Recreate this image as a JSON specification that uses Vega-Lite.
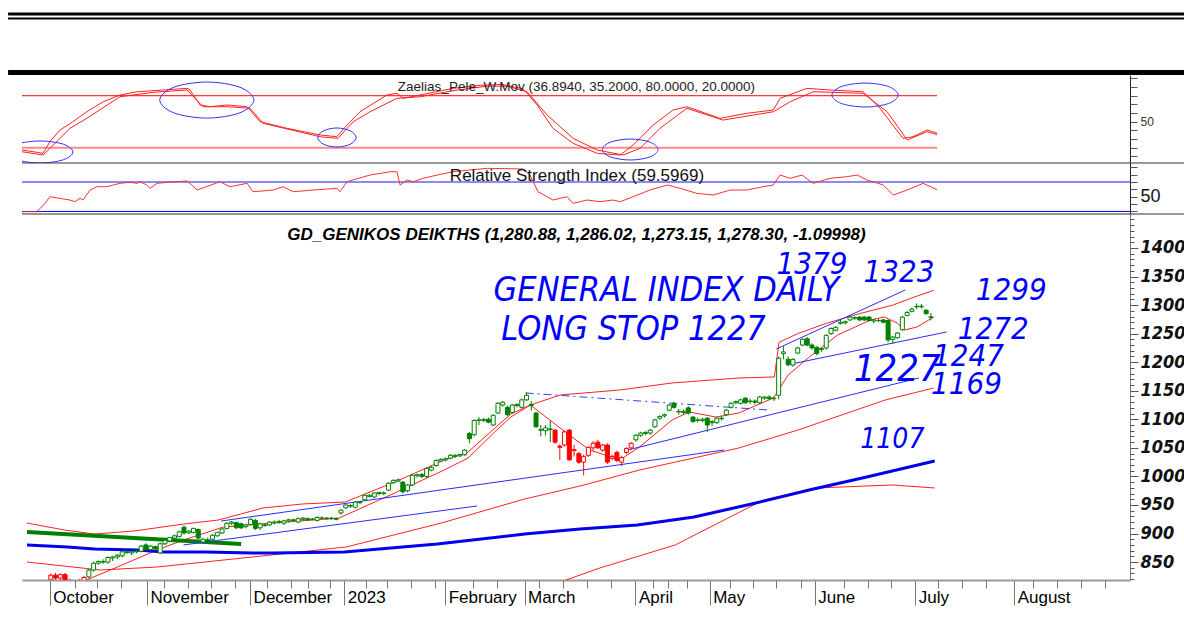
{
"$schema": "https://vega.github.io/schema/vega-lite/v6.json",
"background": "white",
"padding": {"left": 5, "top": 0, "right": 0, "bottom": 0},
"spacing": 0,
"bounds": "flush",
"config": {"view": {"stroke": null}, "font": "Liberation Sans", "axis": {"grid": false}},
"datasets": {
"osc": [
{"s":"a","t":0,"v":17.4},{"s":"a","t":4.4,"v":13.6},{"s":"a","t":5.8,"v":27},{"s":"a","t":7.9,"v":40.4},{"s":"a","t":10.6,"v":50},{"s":"a","t":13.5,"v":61.5},{"s":"a","t":16.9,"v":73},{"s":"a","t":20.4,"v":80.8},{"s":"a","t":24,"v":84.6},{"s":"a","t":27.3,"v":85.8},{"s":"a","t":34.4,"v":88.5},{"s":"a","t":35,"v":86.6},{"s":"a","t":37.1,"v":69.3},{"s":"a","t":39.2,"v":67.3},{"s":"a","t":42.7,"v":69.3},{"s":"a","t":46.9,"v":67.3},{"s":"a","t":49.6,"v":50},{"s":"a","t":55.2,"v":42.4},{"s":"a","t":62.1,"v":34.7},{"s":"a","t":65.6,"v":32.7},{"s":"a","t":67.7,"v":46.2},{"s":"a","t":70.4,"v":61.5},{"s":"a","t":76,"v":80.8},{"s":"a","t":78.1,"v":82.8},{"s":"a","t":79.4,"v":77},{"s":"a","t":82.9,"v":80.8},{"s":"a","t":89.8,"v":88.5},{"s":"a","t":95.4,"v":92},{"s":"a","t":100,"v":93},{"s":"a","t":104.4,"v":88},{"s":"a","t":107.3,"v":69.3},{"s":"a","t":110.6,"v":42.4},{"s":"a","t":114.8,"v":25.1},{"s":"a","t":119.8,"v":13.6},{"s":"a","t":124.6,"v":11.6},{"s":"a","t":127.3,"v":23.1},{"s":"a","t":131.5,"v":46.2},{"s":"a","t":135.6,"v":63.5},{"s":"a","t":138.5,"v":67.3},{"s":"a","t":145.4,"v":53.9},{"s":"a","t":151,"v":59.7},{"s":"a","t":156.5,"v":63.5},{"s":"a","t":157.9,"v":77},{"s":"a","t":163.5,"v":88.5},{"s":"a","t":168.3,"v":86.6},{"s":"a","t":175.2,"v":84.6},{"s":"a","t":178.75,"v":65.5},{"s":"a","t":183.5,"v":30.8},{"s":"a","t":185.6,"v":32.7},{"s":"a","t":188.5,"v":40.4},{"s":"a","t":190.6,"v":36.9},
{"s":"b","t":0,"v":15.4},{"s":"b","t":4.4,"v":11.6},{"s":"b","t":6.5,"v":23.1},{"s":"b","t":10,"v":42.4},{"s":"b","t":13.5,"v":53.9},{"s":"b","t":20.4,"v":78.8},{"s":"b","t":27.3,"v":83.9},{"s":"b","t":34.4,"v":86.6},{"s":"b","t":37.7,"v":67.3},{"s":"b","t":42.7,"v":67.3},{"s":"b","t":47.5,"v":65.5},{"s":"b","t":50.2,"v":48.2},{"s":"b","t":62.1,"v":32.7},{"s":"b","t":65.8,"v":30.8},{"s":"b","t":69,"v":50},{"s":"b","t":72.5,"v":61.5},{"s":"b","t":78.1,"v":77},{"s":"b","t":82.9,"v":78.8},{"s":"b","t":90,"v":86},{"s":"b","t":96.9,"v":91},{"s":"b","t":101,"v":91},{"s":"b","t":105.2,"v":84.6},{"s":"b","t":109.4,"v":57.7},{"s":"b","t":114.8,"v":30.8},{"s":"b","t":119.8,"v":17.4},{"s":"b","t":125.2,"v":11.6},{"s":"b","t":128.75,"v":19.3},{"s":"b","t":132.9,"v":42.4},{"s":"b","t":138.5,"v":65.5},{"s":"b","t":146,"v":51.9},{"s":"b","t":156.5,"v":61.5},{"s":"b","t":160,"v":73},{"s":"b","t":164.8,"v":84.6},{"s":"b","t":175.2,"v":82.8},{"s":"b","t":180.2,"v":61.5},{"s":"b","t":184.4,"v":28.9},{"s":"b","t":188.5,"v":38.5},{"s":"b","t":190.6,"v":35.2}
],
"ell": [
{"e":1,"k":0,"t":-3.1,"v":15.1},{"e":1,"k":1,"t":-1.1,"v":24.1},{"e":1,"k":2,"t":3.75,"v":27.8},{"e":1,"k":3,"t":8.6,"v":24.1},{"e":1,"k":4,"t":10.6,"v":15.1},{"e":1,"k":5,"t":8.6,"v":6.1},{"e":1,"k":6,"t":3.75,"v":2.4},{"e":1,"k":7,"t":-1.1,"v":6.1},
{"e":2,"k":0,"t":28.7,"v":75},{"e":2,"k":1,"t":31.6,"v":89.7},{"e":2,"k":2,"t":38.5,"v":95.8},{"e":2,"k":3,"t":45.4,"v":89.7},{"e":2,"k":4,"t":48.3,"v":75},{"e":2,"k":5,"t":45.4,"v":60.3},{"e":2,"k":6,"t":38.5,"v":54.2},{"e":2,"k":7,"t":31.6,"v":60.3},
{"e":3,"k":0,"t":61.6,"v":31.8},{"e":3,"k":1,"t":62.8,"v":39.5},{"e":3,"k":2,"t":65.6,"v":42.8},{"e":3,"k":3,"t":68.4,"v":39.5},{"e":3,"k":4,"t":69.6,"v":31.8},{"e":3,"k":5,"t":68.4,"v":24.1},{"e":3,"k":6,"t":65.6,"v":20.8},{"e":3,"k":7,"t":62.8,"v":24.1},
{"e":4,"k":0,"t":120.9,"v":17.95},{"e":4,"k":1,"t":122.6,"v":26.5},{"e":4,"k":2,"t":126.7,"v":30.05},{"e":4,"k":3,"t":130.8,"v":26.5},{"e":4,"k":4,"t":132.5,"v":17.95},{"e":4,"k":5,"t":130.8,"v":9.4},{"e":4,"k":6,"t":126.7,"v":5.85},{"e":4,"k":7,"t":122.6,"v":9.4},
{"e":5,"k":0,"t":168.7,"v":80.8},{"e":5,"k":1,"t":170.7,"v":90.6},{"e":5,"k":2,"t":175.6,"v":94.6},{"e":5,"k":3,"t":180.5,"v":90.6},{"e":5,"k":4,"t":182.5,"v":80.8},{"e":5,"k":5,"t":180.5,"v":71},{"e":5,"k":6,"t":175.6,"v":67},{"e":5,"k":7,"t":170.7,"v":71}
],
"rsi": [
{"t":0,"v":29.6},{"t":3.1,"v":29.6},{"t":4.8,"v":41},{"t":5.8,"v":50},{"t":10,"v":45.5},{"t":11,"v":43.2},{"t":12.1,"v":47.8},{"t":12.7,"v":45.5},{"t":14.2,"v":59.1},{"t":15.6,"v":63.6},{"t":17.7,"v":63.6},{"t":19,"v":65.9},{"t":20.4,"v":68.2},{"t":22.5,"v":69.6},{"t":24,"v":68.2},{"t":24.6,"v":70.4},{"t":26,"v":65.9},{"t":26.7,"v":61.4},{"t":28.1,"v":68.2},{"t":30.2,"v":69.6},{"t":34.4,"v":71.4},{"t":36.5,"v":59.1},{"t":41.25,"v":70.4},{"t":43.3,"v":63.6},{"t":46.9,"v":68.2},{"t":48.1,"v":56.8},{"t":52.3,"v":59.1},{"t":54.4,"v":63.6},{"t":56.5,"v":56.8},{"t":60.6,"v":59.1},{"t":65.6,"v":61.4},{"t":66.25,"v":56.8},{"t":67.7,"v":70.4},{"t":72.5,"v":79.5},{"t":76.7,"v":84},{"t":78.1,"v":84},{"t":78.75,"v":65.9},{"t":80.2,"v":72.7},{"t":81.5,"v":70.4},{"t":83.5,"v":75},{"t":86.5,"v":79.5},{"t":89.8,"v":84},{"t":93.3,"v":86.4},{"t":96.9,"v":88.6},{"t":104.4,"v":87.7},{"t":105.8,"v":79.5},{"t":107.5,"v":56.8},{"t":110.6,"v":45.5},{"t":113.5,"v":50},{"t":114.8,"v":41},{"t":117.7,"v":45.5},{"t":120.4,"v":43.2},{"t":123.1,"v":45.5},{"t":124.6,"v":43.2},{"t":127.3,"v":50},{"t":130.8,"v":59.1},{"t":134.4,"v":65.9},{"t":137.1,"v":61.4},{"t":140.6,"v":54.5},{"t":144,"v":52.3},{"t":147.5,"v":59.1},{"t":151,"v":59.1},{"t":154.4,"v":63.6},{"t":156.5,"v":65.9},{"t":157.9,"v":79.5},{"t":160,"v":75},{"t":162.5,"v":79.5},{"t":164.8,"v":68.2},{"t":168.3,"v":75},{"t":171.9,"v":77.3},{"t":174,"v":79.5},{"t":176,"v":72.7},{"t":177.3,"v":70.4},{"t":179.4,"v":65.9},{"t":181.5,"v":52.3},{"t":184.4,"v":59.1},{"t":187.7,"v":68.2},{"t":190.6,"v":59.6}
],
"ma": [
{"id":"A","t":0,"v":918.4},{"id":"A","t":7.9,"v":906.1},{"id":"A","t":14.2,"v":899.1},{"id":"A","t":22.5,"v":904.4},{"id":"A","t":32.9,"v":916.6},{"id":"A","t":40.2,"v":923.6},{"id":"A","t":49.6,"v":944.7},{"id":"A","t":57.9,"v":951.7},{"id":"A","t":66.9,"v":955.2},{"id":"A","t":77.3,"v":990.2},{"id":"A","t":87.7,"v":1028.7},{"id":"A","t":92.7,"v":1042.7},{"id":"A","t":101.7,"v":1109.3},{"id":"A","t":105.8,"v":1125},{"id":"A","t":112.1,"v":1142.6},{"id":"A","t":124.6,"v":1151.3},{"id":"A","t":135.6,"v":1163.6},{"id":"A","t":149.6,"v":1172.3},{"id":"A","t":157.1,"v":1174.1},{"id":"A","t":158.1,"v":1235},{"id":"A","t":162,"v":1250},{"id":"A","t":168,"v":1268},{"id":"A","t":175,"v":1285},{"id":"A","t":182,"v":1300},{"id":"A","t":186.5,"v":1314},{"id":"A","t":190.6,"v":1326},
{"id":"B","t":12.5,"v":818.6},{"id":"B","t":19,"v":841.3},{"id":"B","t":27.3,"v":871.1},{"id":"B","t":32.9,"v":888.6},{"id":"B","t":41.3,"v":911.4},{"id":"B","t":51.7,"v":918.4},{"id":"B","t":65.6,"v":927.1},{"id":"B","t":77.3,"v":970.9},{"id":"B","t":87.7,"v":1011.2},{"id":"B","t":92.7,"v":1032.2},{"id":"B","t":98.1,"v":1076},{"id":"B","t":101.7,"v":1104},{"id":"B","t":105.8,"v":1125},{"id":"B","t":114.8,"v":1067.3},{"id":"B","t":118.3,"v":1046.2},{"id":"B","t":124.6,"v":1028.7},{"id":"B","t":128.75,"v":1051.5},{"id":"B","t":135.6,"v":1098.8},{"id":"B","t":139.2,"v":1112.8},{"id":"B","t":144.8,"v":1104},{"id":"B","t":149.6,"v":1111},{"id":"B","t":156.9,"v":1137.3},{"id":"B","t":160,"v":1177.6},{"id":"B","t":164.2,"v":1207.4},{"id":"B","t":170.4,"v":1247.6},{"id":"B","t":177.3,"v":1273.9},{"id":"B","t":180.2,"v":1279.2},{"id":"B","t":182.9,"v":1268.7},{"id":"B","t":184.4,"v":1256.4},{"id":"B","t":187.1,"v":1261.6},{"id":"B","t":190.6,"v":1279.2},
{"id":"C","t":0,"v":850.1},{"id":"C","t":15.4,"v":836.1},{"id":"C","t":27.3,"v":841.3},{"id":"C","t":47.3,"v":858.8},{"id":"C","t":67.1,"v":876.4},{"id":"C","t":87.1,"v":918.4},{"id":"C","t":104.6,"v":960.4},{"id":"C","t":116.25,"v":983.2},{"id":"C","t":128.75,"v":1011.2},{"id":"C","t":149.6,"v":1049.7},{"id":"C","t":162.1,"v":1081.3},{"id":"C","t":180.4,"v":1133.8},{"id":"C","t":190.6,"v":1154.8},
{"id":"D","t":100,"v":790},{"id":"D","t":113.3,"v":818.6},{"id":"D","t":120.4,"v":839.6},{"id":"D","t":136.25,"v":879.9},{"id":"D","t":154.8,"v":958.7},{"id":"D","t":165.8,"v":979.7},{"id":"D","t":181.9,"v":985},{"id":"D","t":190.8,"v":979.7}
],
"mab": [
{"t":0,"v":880},{"t":8.5,"v":876.4},{"t":14.2,"v":872.9},{"t":23.1,"v":871.1},{"t":28.75,"v":867.6},{"t":37.5,"v":867.6},{"t":47.5,"v":865.9},{"t":51.7,"v":865.9},{"t":66.7,"v":867.6},{"t":86.25,"v":881.6},{"t":104.6,"v":899.1},{"t":116.25,"v":907.9},{"t":128.3,"v":914.9},{"t":140.2,"v":928.9},{"t":152.3,"v":951.7},{"t":164.4,"v":976.2},{"t":176.5,"v":998.9},{"t":190.8,"v":1026.9}
],
"grn": [{"t":0,"v":902.6},{"t":45,"v":881.6}],
"tl": [
{"id":1,"t":32.9,"v":880},{"id":1,"t":94.6,"v":948.2},
{"id":2,"t":40.8,"v":921.9},{"id":2,"t":146.5,"v":1046.2},
{"id":3,"t":126.25,"v":1046.2},{"id":3,"t":187.5,"v":1172.3},
{"id":4,"t":159.6,"v":1195},{"id":4,"t":193.3,"v":1252.9},
{"id":5,"t":157.5,"v":1223.1},{"id":5,"t":184.6,"v":1326.4}
],
"dl": [{"t":104.8,"v":1146.1},{"t":155.8,"v":1116.3}],
"candles": [
{"t":1,"o":810,"h":814,"l":800,"c":805,"k":"r"},{"t":2,"o":806,"h":812,"l":798,"c":810,"k":"r"},{"t":3,"o":810,"h":815,"l":803,"c":806,"k":"r"},{"t":4,"o":806,"h":816,"l":802,"c":814,"k":"r"},{"t":5,"o":819,"h":830,"l":815,"c":827,"k":"r"},{"t":6,"o":827,"h":831,"l":819,"c":822,"k":"r"},{"t":7,"o":822,"h":830,"l":818,"c":828,"k":"r"},{"t":8,"o":828,"h":831,"l":815,"c":817,"k":"r"},{"t":9,"o":816,"h":821,"l":808,"c":812,"k":"r"},{"t":10,"o":812,"h":818,"l":805,"c":815,"k":"r"},{"t":11,"o":815,"h":820,"l":808,"c":811,"k":"r"},{"t":12,"o":812,"h":826,"l":809,"c":823,"k":"r"},
{"t":13,"o":824,"h":838,"l":821,"c":836,"k":"g"},{"t":14,"o":836,"h":851,"l":833,"c":848,"k":"g"},{"t":15,"o":848,"h":853,"l":845,"c":851,"k":"g"},{"t":16,"o":851,"h":855,"l":847,"c":850,"k":"g"},{"t":17,"o":850,"h":860,"l":847,"c":858,"k":"g"},{"t":18,"o":857,"h":861,"l":852,"c":859,"k":"g"},{"t":19,"o":859,"h":864,"l":855,"c":862,"k":"g"},{"t":20,"o":861,"h":870,"l":858,"c":868,"k":"g"},{"t":21,"o":868,"h":871,"l":864,"c":867,"k":"g"},{"t":22,"o":866,"h":870,"l":862,"c":868,"k":"g"},{"t":23,"o":868,"h":872,"l":865,"c":869,"k":"g"},{"t":24,"o":869,"h":880,"l":867,"c":878,"k":"g"},{"t":25,"o":880,"h":883,"l":870,"c":872,"k":"g"},{"t":26,"o":872,"h":880,"l":869,"c":878,"k":"g"},{"t":27,"o":877,"h":879,"l":870,"c":873,"k":"g"},{"t":28,"o":866,"h":884,"l":864,"c":882,"k":"g"},{"t":29,"o":882,"h":889,"l":880,"c":888,"k":"g"},{"t":30,"o":887,"h":894,"l":885,"c":893,"k":"g"},{"t":31,"o":892,"h":898,"l":890,"c":896,"k":"g"},{"t":32,"o":895,"h":905,"l":893,"c":903,"k":"g"},{"t":33,"o":911,"h":914,"l":898,"c":901,"k":"g"},{"t":34,"o":901,"h":906,"l":899,"c":904,"k":"g"},{"t":35,"o":902,"h":910,"l":900,"c":909,"k":"g"},{"t":36,"o":907,"h":909,"l":889,"c":892,"k":"g"},{"t":37,"o":885,"h":892,"l":882,"c":890,"k":"g"},{"t":38,"o":889,"h":893,"l":885,"c":888,"k":"g"},{"t":39,"o":890,"h":899,"l":888,"c":897,"k":"g"},{"t":40,"o":896,"h":903,"l":894,"c":902,"k":"g"},{"t":41,"o":901,"h":909,"l":899,"c":908,"k":"g"},{"t":42,"o":909,"h":920,"l":907,"c":918,"k":"g"},{"t":43,"o":918,"h":922,"l":915,"c":920,"k":"g"},{"t":44,"o":919,"h":921,"l":908,"c":910,"k":"g"},{"t":45,"o":917,"h":919,"l":908,"c":910,"k":"g"},{"t":46,"o":912,"h":917,"l":909,"c":915,"k":"g"},{"t":47,"o":916,"h":927,"l":914,"c":925,"k":"g"},{"t":48,"o":923,"h":926,"l":906,"c":909,"k":"g"},{"t":49,"o":910,"h":919,"l":906,"c":917,"k":"g"},{"t":50,"o":915,"h":918,"l":912,"c":914,"k":"g"},{"t":51,"o":915,"h":922,"l":913,"c":920,"k":"g"},{"t":52,"o":919,"h":923,"l":916,"c":920,"k":"g"},{"t":53,"o":920,"h":924,"l":917,"c":921,"k":"g"},{"t":54,"o":918,"h":924,"l":915,"c":922,"k":"g"},{"t":55,"o":922,"h":926,"l":919,"c":924,"k":"g"},{"t":56,"o":923,"h":926,"l":920,"c":924,"k":"g"},{"t":57,"o":920,"h":928,"l":918,"c":926,"k":"g"},{"t":58,"o":925,"h":929,"l":922,"c":927,"k":"g"},{"t":59,"o":926,"h":928,"l":922,"c":924,"k":"g"},{"t":60,"o":925,"h":927,"l":923,"c":925,"k":"g"},{"t":61,"o":923,"h":930,"l":921,"c":928,"k":"g"},{"t":62,"o":927,"h":930,"l":925,"c":927,"k":"g"},{"t":63,"o":927,"h":929,"l":924,"c":926,"k":"g"},{"t":64,"o":926,"h":929,"l":924,"c":927,"k":"g"},{"t":65,"o":926,"h":928,"l":923,"c":925,"k":"g"},{"t":66,"o":936,"h":942,"l":933,"c":941,"k":"g"},{"t":67,"o":945,"h":951,"l":943,"c":950,"k":"g"},{"t":68,"o":948,"h":951,"l":945,"c":949,"k":"g"},{"t":69,"o":946,"h":957,"l":944,"c":955,"k":"g"},{"t":70,"o":954,"h":957,"l":951,"c":956,"k":"g"},{"t":71,"o":959,"h":968,"l":957,"c":967,"k":"g"},{"t":72,"o":965,"h":969,"l":963,"c":967,"k":"g"},{"t":73,"o":964,"h":972,"l":962,"c":971,"k":"g"},{"t":74,"o":970,"h":973,"l":967,"c":972,"k":"g"},{"t":75,"o":971,"h":974,"l":967,"c":970,"k":"g"},{"t":76,"o":976,"h":990,"l":974,"c":988,"k":"g"},{"t":77,"o":989,"h":995,"l":987,"c":993,"k":"g"},{"t":78,"o":992,"h":996,"l":990,"c":994,"k":"g"},{"t":79,"o":990,"h":992,"l":970,"c":973,"k":"g"},{"t":80,"o":975,"h":987,"l":972,"c":985,"k":"g"},{"t":81,"o":985,"h":1004,"l":983,"c":1002,"k":"g"},{"t":82,"o":1001,"h":1005,"l":998,"c":1003,"k":"g"},{"t":83,"o":1003,"h":1006,"l":997,"c":1000,"k":"g"},{"t":84,"o":1000,"h":1016,"l":997,"c":1014,"k":"g"},{"t":85,"o":1011,"h":1018,"l":1009,"c":1016,"k":"g"},{"t":86,"o":1019,"h":1030,"l":1017,"c":1028,"k":"g"},{"t":87,"o":1027,"h":1032,"l":1025,"c":1030,"k":"g"},{"t":88,"o":1029,"h":1033,"l":1026,"c":1031,"k":"g"},{"t":89,"o":1032,"h":1039,"l":1030,"c":1037,"k":"g"},{"t":90,"o":1035,"h":1039,"l":1032,"c":1037,"k":"g"},{"t":91,"o":1036,"h":1040,"l":1034,"c":1038,"k":"g"},{"t":92,"o":1038,"h":1048,"l":1036,"c":1046,"k":"g"},{"t":93,"o":1075,"h":1078,"l":1058,"c":1066,"k":"g"},{"t":94,"o":1073,"h":1100,"l":1070,"c":1098,"k":"g"},{"t":95,"o":1098,"h":1104,"l":1090,"c":1099,"k":"g"},{"t":96,"o":1098,"h":1102,"l":1095,"c":1100,"k":"g"},{"t":97,"o":1100,"h":1103,"l":1093,"c":1095,"k":"g"},{"t":98,"o":1090,"h":1109,"l":1088,"c":1107,"k":"g"},{"t":99,"o":1111,"h":1130,"l":1109,"c":1128,"k":"g"},{"t":100,"o":1125,"h":1132,"l":1122,"c":1130,"k":"g"},{"t":101,"o":1121,"h":1124,"l":1105,"c":1108,"k":"g"},{"t":102,"o":1112,"h":1127,"l":1110,"c":1125,"k":"g"},{"t":103,"o":1124,"h":1128,"l":1121,"c":1126,"k":"g"},{"t":104,"o":1121,"h":1136,"l":1119,"c":1134,"k":"g"},{"t":105,"o":1134,"h":1147,"l":1132,"c":1142,"k":"g"},{"t":106,"o":1126,"h":1132,"l":1115,"c":1124,"k":"g"},{"t":107,"o":1111,"h":1113,"l":1085,"c":1087,"k":"g"},{"t":108,"o":1082,"h":1090,"l":1070,"c":1081,"k":"g"},{"t":109,"o":1080,"h":1090,"l":1072,"c":1085,"k":"g"},{"t":110,"o":1083,"h":1098,"l":1060,"c":1082,"k":"g"},
{"t":111,"o":1081,"h":1083,"l":1057,"c":1060,"k":"r"},{"t":112,"o":1053,"h":1056,"l":1029,"c":1051,"k":"r"},{"t":113,"o":1055,"h":1080,"l":1052,"c":1078,"k":"r"},{"t":114,"o":1081,"h":1083,"l":1027,"c":1029,"k":"r"},{"t":115,"o":1045,"h":1055,"l":1035,"c":1047,"k":"r"},{"t":116,"o":1040,"h":1043,"l":1022,"c":1025,"k":"r"},{"t":117,"o":1025,"h":1038,"l":1002,"c":1035,"k":"r"},{"t":118,"o":1037,"h":1053,"l":1034,"c":1051,"k":"r"},{"t":119,"o":1050,"h":1062,"l":1045,"c":1058,"k":"r"},{"t":120,"o":1060,"h":1064,"l":1048,"c":1050,"k":"r"},{"t":121,"o":1046,"h":1057,"l":1043,"c":1055,"k":"r"},{"t":122,"o":1055,"h":1058,"l":1022,"c":1025,"k":"r"},{"t":123,"o":1032,"h":1038,"l":1028,"c":1035,"k":"r"},{"t":124,"o":1042,"h":1045,"l":1025,"c":1028,"k":"r"},{"t":125,"o":1025,"h":1036,"l":1018,"c":1033,"k":"r"},{"t":126,"o":1042,"h":1051,"l":1039,"c":1049,"k":"r"},{"t":127,"o":1050,"h":1060,"l":1047,"c":1058,"k":"r"},
{"t":128,"o":1064,"h":1074,"l":1061,"c":1072,"k":"g"},{"t":129,"o":1072,"h":1078,"l":1069,"c":1076,"k":"g"},{"t":130,"o":1075,"h":1079,"l":1072,"c":1077,"k":"g"},{"t":131,"o":1076,"h":1083,"l":1073,"c":1081,"k":"g"},{"t":132,"o":1087,"h":1101,"l":1085,"c":1099,"k":"g"},{"t":133,"o":1102,"h":1107,"l":1099,"c":1105,"k":"g"},{"t":134,"o":1106,"h":1110,"l":1103,"c":1108,"k":"g"},{"t":135,"o":1116,"h":1127,"l":1114,"c":1125,"k":"g"},{"t":136,"o":1128,"h":1131,"l":1119,"c":1121,"k":"g"},{"t":137,"o":1114,"h":1118,"l":1108,"c":1113,"k":"g"},{"t":138,"o":1112,"h":1117,"l":1108,"c":1114,"k":"g"},{"t":139,"o":1120,"h":1123,"l":1108,"c":1111,"k":"g"},{"t":140,"o":1104,"h":1106,"l":1094,"c":1096,"k":"g"},{"t":141,"o":1098,"h":1103,"l":1094,"c":1099,"k":"g"},{"t":142,"o":1098,"h":1102,"l":1095,"c":1100,"k":"g"},{"t":143,"o":1102,"h":1104,"l":1078,"c":1090,"k":"g"},{"t":144,"o":1094,"h":1099,"l":1088,"c":1096,"k":"g"},{"t":145,"o":1094,"h":1104,"l":1092,"c":1102,"k":"g"},{"t":146,"o":1101,"h":1106,"l":1098,"c":1102,"k":"g"},{"t":147,"o":1108,"h":1118,"l":1106,"c":1116,"k":"g"},{"t":148,"o":1121,"h":1130,"l":1119,"c":1128,"k":"g"},{"t":149,"o":1129,"h":1133,"l":1126,"c":1131,"k":"g"},{"t":150,"o":1128,"h":1136,"l":1126,"c":1134,"k":"g"},{"t":151,"o":1137,"h":1139,"l":1127,"c":1129,"k":"g"},{"t":152,"o":1131,"h":1136,"l":1127,"c":1132,"k":"g"},{"t":153,"o":1132,"h":1135,"l":1126,"c":1130,"k":"g"},{"t":154,"o":1129,"h":1141,"l":1127,"c":1139,"k":"g"},{"t":155,"o":1137,"h":1141,"l":1134,"c":1139,"k":"g"},{"t":156,"o":1139,"h":1142,"l":1134,"c":1136,"k":"g"},{"t":157,"o":1136,"h":1140,"l":1132,"c":1137,"k":"g"},{"t":158,"o":1142,"h":1210,"l":1135,"c":1207,"k":"g"},{"t":159,"o":1215,"h":1228,"l":1205,"c":1218,"k":"g"},{"t":160,"o":1205,"h":1210,"l":1193,"c":1196,"k":"g"},{"t":161,"o":1195,"h":1207,"l":1192,"c":1205,"k":"g"},{"t":162,"o":1216,"h":1227,"l":1214,"c":1225,"k":"g"},{"t":163,"o":1230,"h":1242,"l":1228,"c":1240,"k":"g"},{"t":164,"o":1241,"h":1244,"l":1228,"c":1230,"k":"g"},{"t":165,"o":1230,"h":1233,"l":1222,"c":1225,"k":"g"},{"t":166,"o":1226,"h":1228,"l":1212,"c":1215,"k":"g"},{"t":167,"o":1222,"h":1226,"l":1218,"c":1224,"k":"g"},{"t":168,"o":1225,"h":1249,"l":1222,"c":1247,"k":"g"},{"t":169,"o":1250,"h":1261,"l":1248,"c":1259,"k":"g"},{"t":170,"o":1256,"h":1263,"l":1254,"c":1261,"k":"g"},{"t":171,"o":1268,"h":1275,"l":1266,"c":1270,"k":"g"},{"t":172,"o":1269,"h":1273,"l":1266,"c":1271,"k":"g"},{"t":173,"o":1274,"h":1281,"l":1272,"c":1279,"k":"g"},{"t":174,"o":1277,"h":1280,"l":1274,"c":1278,"k":"g"},{"t":175,"o":1279,"h":1281,"l":1272,"c":1274,"k":"g"},{"t":176,"o":1279,"h":1281,"l":1272,"c":1274,"k":"g"},{"t":177,"o":1279,"h":1281,"l":1271,"c":1273,"k":"g"},{"t":178,"o":1272,"h":1276,"l":1268,"c":1274,"k":"g"},{"t":179,"o":1273,"h":1276,"l":1270,"c":1273,"k":"g"},{"t":180,"o":1274,"h":1276,"l":1268,"c":1270,"k":"g"},{"t":181,"o":1273,"h":1275,"l":1235,"c":1239,"k":"g"},{"t":182,"o":1240,"h":1246,"l":1232,"c":1244,"k":"g"},{"t":183,"o":1243,"h":1253,"l":1241,"c":1251,"k":"g"},{"t":184,"o":1257,"h":1281,"l":1255,"c":1279,"k":"g"},{"t":185,"o":1282,"h":1290,"l":1280,"c":1287,"k":"g"},{"t":186,"o":1289,"h":1296,"l":1287,"c":1293,"k":"g"},{"t":187,"o":1297,"h":1303,"l":1293,"c":1298,"k":"g"},{"t":188,"o":1298,"h":1302,"l":1294,"c":1297,"k":"g"},{"t":189,"o":1291,"h":1293,"l":1283,"c":1285,"k":"g"},{"t":190,"o":1279.4,"h":1286.02,"l":1273.15,"c":1278.3,"k":"g"}
]
},
"vconcat": [
{
"width": 1108, "height": 75,
"data": {"values": [{}]},
"resolve": {"axis": {"x": "independent", "y": "independent"}},
"layer": [
{"mark": {"type": "rule", "color": "black", "strokeWidth": 3, "clip": false},
 "encoding": {"x": {"datum": -2.9, "type": "quantitative", "scale": {"domain": [0, 230.8], "nice": false, "zero": false}, "axis": null}, "x2": {"datum": 242.1}, "y": {"datum": 61, "type": "quantitative", "scale": {"domain": [0, 75], "nice": false, "zero": false}, "axis": null}}},
{"mark": {"type": "rule", "color": "black", "strokeWidth": 2, "clip": false},
 "encoding": {"x": {"datum": -2.9, "type": "quantitative", "axis": null}, "x2": {"datum": 242.1}, "y": {"datum": 56.5, "type": "quantitative", "axis": null}}},
{"mark": {"type": "rule", "color": "black", "strokeWidth": 5, "clip": false},
 "encoding": {"x": {"datum": -2.9, "type": "quantitative", "axis": null}, "x2": {"datum": 242.1}, "y": {"datum": 2.5, "type": "quantitative", "axis": null}}}
]
},
{
"width": 1108, "height": 88,
"resolve": {"axis": {"x": "independent", "y": "independent"}},
"layer": [
{"data": {"values": [{}]},
 "mark": {"type": "rule", "color": "#ff0000", "strokeWidth": 1},
 "encoding": {"x": {"datum": 0, "type": "quantitative", "scale": {"domain": [0, 230.8], "nice": false, "zero": false}, "axis": null}, "x2": {"datum": 190.6}, "y": {"datum": 80, "type": "quantitative", "scale": {"domain": [2.4, 103.9], "nice": false, "zero": false},
  "axis": {"orient": "right", "title": null, "values": [50], "tickSize": 7, "tickColor": "#555", "domainColor": "#222", "labelFontSize": 12, "labelColor": "#333", "labelPadding": 3}}}},
{"data": {"values": [{}]},
 "mark": {"type": "rule", "color": "#ff8a8a", "strokeWidth": 2},
 "encoding": {"x": {"datum": 0, "type": "quantitative", "axis": null}, "x2": {"datum": 190.6}, "y": {"datum": 20, "type": "quantitative",
  "axis": {"orient": "right", "title": null, "values": [10,20,30,40,60,70,80,90,100], "labels": false, "domain": false, "tickSize": 7, "tickColor": "#555"}}}},
{"data": {"name": "osc"},
 "mark": {"type": "line", "color": "#ff2020", "strokeWidth": 1},
 "encoding": {"x": {"field": "t", "type": "quantitative", "axis": null}, "y": {"field": "v", "type": "quantitative", "axis": null}, "detail": {"field": "s"}}},
{"data": {"name": "ell"},
 "mark": {"type": "line", "color": "#3030ff", "strokeWidth": 1, "interpolate": "cardinal-closed", "clip": true},
 "encoding": {"x": {"field": "t", "type": "quantitative", "axis": null}, "y": {"field": "v", "type": "quantitative", "axis": null}, "detail": {"field": "e"}, "order": {"field": "k"}}},
{"data": {"values": [{}]},
 "mark": {"type": "text", "text": "Zaelias_Pele_W.Mov (36.8940, 35.2000, 80.0000, 20.0000)", "fontSize": 13.5, "color": "#222", "align": "center", "baseline": "middle"},
 "encoding": {"x": {"datum": 115.5, "type": "quantitative", "axis": null}, "y": {"datum": 90, "type": "quantitative", "axis": null}}}
]
},
{
"width": 1108, "height": 51,
"resolve": {"axis": {"x": "independent", "y": "independent"}},
"layer": [
{"data": {"values": [{}]},
 "mark": {"type": "rule", "color": "#8a8aff", "strokeWidth": 2},
 "encoding": {"x": {"datum": 0, "type": "quantitative", "scale": {"domain": [0, 230.8], "nice": false, "zero": false}, "axis": null}, "x2": {"datum": 230.8}, "y": {"datum": 70, "type": "quantitative", "scale": {"domain": [26.5, 95.85], "nice": false, "zero": false},
  "axis": {"orient": "right", "title": null, "values": [50], "tickSize": 7, "tickColor": "#555", "domainColor": "#222", "labelFontSize": 18, "labelColor": "#111", "labelPadding": 3}}}},
{"data": {"values": [{}]},
 "mark": {"type": "rule", "color": "#0000ff", "strokeWidth": 1},
 "encoding": {"x": {"datum": 0, "type": "quantitative", "axis": null}, "x2": {"datum": 230.8}, "y": {"datum": 30, "type": "quantitative",
  "axis": {"orient": "right", "title": null, "values": [30,40,60,70,80,90], "labels": false, "domain": false, "tickSize": 7, "tickColor": "#555"}}}},
{"data": {"values": [{}]},
 "mark": {"type": "rule", "color": "#333", "strokeWidth": 1, "clip": false},
 "encoding": {"x": {"datum": 0, "type": "quantitative", "axis": null}, "x2": {"datum": 242.1}, "y": {"datum": 95.85, "type": "quantitative", "axis": null}}},
{"data": {"values": [{}]},
 "mark": {"type": "rule", "color": "#333", "strokeWidth": 1, "clip": false},
 "encoding": {"x": {"datum": 0, "type": "quantitative", "axis": null}, "x2": {"datum": 242.1}, "y": {"datum": 26.5, "type": "quantitative", "axis": null}}},
{"data": {"name": "rsi"},
 "mark": {"type": "line", "color": "#ff3030", "strokeWidth": 1},
 "encoding": {"x": {"field": "t", "type": "quantitative", "axis": null}, "y": {"field": "v", "type": "quantitative", "axis": null}}},
{"data": {"values": [{}]},
 "mark": {"type": "text", "text": "Relative Strength Index (59.5969)", "fontSize": 17, "color": "#111", "align": "center", "baseline": "middle"},
 "encoding": {"x": {"datum": 115.6, "type": "quantitative", "axis": null}, "y": {"datum": 78.2, "type": "quantitative", "axis": null}}}
]
},
{
"width": 1108, "height": 366,
"resolve": {"axis": {"x": "independent", "y": "independent"}},
"layer": [
{"data": {"name": "ma"},
 "mark": {"type": "line", "color": "#ff2020", "strokeWidth": 1, "clip": true},
 "encoding": {
  "x": {"field": "t", "type": "quantitative", "title": null, "scale": {"domain": [0, 230.8], "nice": false, "zero": false},
   "axis": {"orient": "bottom", "values": [4.8,25.2,46.9,66.7,87.9,104.6,127.9,143.5,165.6,186.7,207.5],
    "labelExpr": "datum.value==4.8?'October':datum.value==25.2?'November':datum.value==46.9?'December':datum.value==66.7?'2023':datum.value==87.9?'February':datum.value==104.6?'March':datum.value==127.9?'April':datum.value==143.5?'May':datum.value==165.6?'June':datum.value==186.7?'July':'August'",
    "tickSize": 25, "tickColor": "#777", "domainColor": "#999", "domainWidth": 2, "labelAlign": "left", "labelBaseline": "top", "labelOffset": 3, "labelPadding": -16, "labelFontSize": 17, "labelColor": "#000", "labelFlush": false, "labelBound": false}},
  "y": {"field": "v", "type": "quantitative", "title": null, "scale": {"domain": [818.6, 1459.5], "nice": false, "zero": false},
   "axis": {"orient": "right", "values": [850,900,950,1000,1050,1100,1150,1200,1250,1300,1350,1400],
    "format": "d", "tickSize": 8, "tickColor": "#555", "domainColor": "#777", "labelFont": "DejaVu Sans Condensed, DejaVu Sans, sans-serif", "labelFontWeight": "bold", "labelFontStyle": "italic", "labelFontSize": 18, "labelColor": "#111", "labelPadding": 2}},
  "detail": {"field": "id"}}},
{"data": {"name": "mab"},
 "mark": {"type": "line", "color": "#0000ee", "strokeWidth": 3, "clip": true},
 "encoding": {
  "x": {"field": "t", "type": "quantitative", "title": null,
   "axis": {"orient": "bottom", "values": [10,14.8,19.8,28.75,33.75,38.75,43.75,50.4,55.4,59,63.75,71.25,75.6,80.8,85.8,93.75,98.75,107.6,112.7,117.7,122.7,131.5,134.8,138.75,147.7,152.6,157.5,162.7,171.7,176.7,181.7,191.5,196.5,201.5,211.5,216.5,221.5,226.7], "labels": false, "domain": false, "tickSize": 8, "tickColor": "#777"}},
  "y": {"field": "v", "type": "quantitative", "title": null,
   "axis": {"orient": "right", "values": [820,830,840,860,870,880,890,910,920,930,940,960,970,980,990,1010,1020,1030,1040,1060,1070,1080,1090,1110,1120,1130,1140,1160,1170,1180,1190,1210,1220,1230,1240,1260,1270,1280,1290,1310,1320,1330,1340,1360,1370,1380,1390,1410,1420,1430,1440,1450], "labels": false, "domain": false, "tickSize": 4, "tickColor": "#555"}}}},
{"data": {"name": "grn"},
 "mark": {"type": "line", "color": "#008000", "strokeWidth": 4, "clip": true},
 "encoding": {"x": {"field": "t", "type": "quantitative", "axis": null}, "y": {"field": "v", "type": "quantitative", "axis": null}}},
{"data": {"name": "tl"},
 "mark": {"type": "line", "color": "#2a2aff", "strokeWidth": 1, "clip": true},
 "encoding": {"x": {"field": "t", "type": "quantitative", "axis": null}, "y": {"field": "v", "type": "quantitative", "axis": null}, "detail": {"field": "id"}}},
{"data": {"name": "dl"},
 "mark": {"type": "line", "color": "#3a3aff", "strokeWidth": 1, "strokeDash": [8, 4, 2, 4], "clip": true},
 "encoding": {"x": {"field": "t", "type": "quantitative", "axis": null}, "y": {"field": "v", "type": "quantitative", "axis": null}}},
{"data": {"name": "candles"},
 "mark": {"type": "rule", "strokeWidth": 1, "clip": true},
 "encoding": {"x": {"field": "t", "type": "quantitative", "axis": null}, "y": {"field": "l", "type": "quantitative", "axis": null}, "y2": {"field": "h"},
  "color": {"field": "k", "type": "nominal", "scale": {"domain": ["g", "r"], "range": ["#008000", "#ff0000"]}, "legend": null}}},
{"data": {"name": "candles"},
 "mark": {"type": "bar", "width": 4, "strokeWidth": 1, "clip": true},
 "encoding": {"x": {"field": "t", "type": "quantitative", "axis": null}, "y": {"field": "o", "type": "quantitative", "axis": null}, "y2": {"field": "c"},
  "stroke": {"field": "k", "type": "nominal", "scale": {"domain": ["g", "r"], "range": ["#008000", "#ff0000"]}, "legend": null},
  "fill": {"condition": {"test": "datum.c < datum.o", "field": "k", "type": "nominal", "scale": {"domain": ["g", "r"], "range": ["#008000", "#ff0000"]}, "legend": null}, "value": "white"}}},
{"data": {"values": [{"t": 134.4, "v": 1324.7, "s": "GENERAL INDEX DAILY"}, {"t": 127.5, "v": 1256.4, "s": "LONG STOP 1227"}]},
 "mark": {"type": "text", "font": "DejaVu Sans Condensed, DejaVu Sans, sans-serif", "fontStyle": "italic", "fontSize": 34, "color": "#0000ff", "align": "center", "baseline": "middle"},
 "encoding": {"x": {"field": "t", "type": "quantitative", "axis": null}, "y": {"field": "v", "type": "quantitative", "axis": null}, "text": {"field": "s"}}},
{"data": {"values": [{"t": 165, "v": 1370.2, "s": "1379"}, {"t": 183.3, "v": 1356.2, "s": "1323"}, {"t": 206.9, "v": 1324.7, "s": "1299"}, {"t": 203.1, "v": 1256.4, "s": "1272"}, {"t": 197.9, "v": 1209.1, "s": "1247"}, {"t": 197.5, "v": 1160, "s": "1169"}]},
 "mark": {"type": "text", "font": "DejaVu Sans Condensed, DejaVu Sans, sans-serif", "fontStyle": "italic", "fontSize": 31, "color": "#0000ff", "align": "center", "baseline": "middle"},
 "encoding": {"x": {"field": "t", "type": "quantitative", "axis": null}, "y": {"field": "v", "type": "quantitative", "axis": null}, "text": {"field": "s"}}},
{"data": {"values": [{"t": 182.9, "v": 1186.3, "s": "1227"}]},
 "mark": {"type": "text", "font": "DejaVu Sans Condensed, DejaVu Sans, sans-serif", "fontStyle": "italic", "fontSize": 38, "color": "#0000ff", "align": "center", "baseline": "middle"},
 "encoding": {"x": {"field": "t", "type": "quantitative", "axis": null}, "y": {"field": "v", "type": "quantitative", "axis": null}, "text": {"field": "s"}}},
{"data": {"values": [{"t": 181.9, "v": 1063.8, "s": "1107"}]},
 "mark": {"type": "text", "font": "DejaVu Sans Condensed, DejaVu Sans, sans-serif", "fontStyle": "italic", "fontSize": 28, "color": "#0000ff", "align": "center", "baseline": "middle"},
 "encoding": {"x": {"field": "t", "type": "quantitative", "axis": null}, "y": {"field": "v", "type": "quantitative", "axis": null}, "text": {"field": "s"}}},
{"data": {"values": [{}]},
 "mark": {"type": "text", "text": "GD_GENIKOS DEIKTHS (1,280.88, 1,286.02, 1,273.15, 1,278.30, -1.09998)", "fontSize": 17, "fontWeight": "bold", "fontStyle": "italic", "color": "#000", "align": "center", "baseline": "middle"},
 "encoding": {"x": {"datum": 115.5, "type": "quantitative", "axis": null}, "y": {"datum": 1422.8, "type": "quantitative", "axis": null}}}
]
}
]
}
